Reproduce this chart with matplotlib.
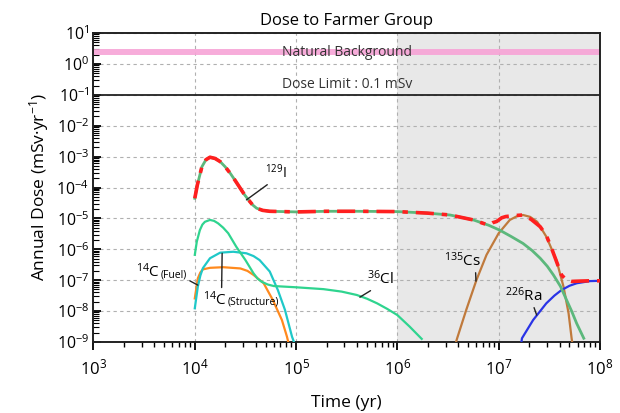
import numpy as np
import matplotlib
matplotlib.use("Agg")
import matplotlib.pyplot as plt
from matplotlib.ticker import LogLocator, LogFormatterMathtext, NullFormatter
import matplotlib.transforms as mtransforms

plt.rcParams['font.family'] = ['Open Sans', 'DejaVu Sans']
plt.rcParams['mathtext.fontset'] = 'custom'
plt.rcParams['mathtext.rm'] = 'Open Sans'
plt.rcParams['mathtext.it'] = 'Open Sans:italic'
plt.rcParams['mathtext.bf'] = 'Open Sans:bold'

# values, as log10(time in yr) and log10(dose in mSv/yr)
i129_t = [4.0, 4.025, 4.07, 4.11, 4.15, 4.20, 4.25, 4.30, 4.35, 4.40, 4.45, 4.49, 4.53, 4.57, 4.61, 4.67, 4.74, 4.87, 5.0,
          5.3, 5.6, 6.0, 6.3, 6.52, 6.75, 6.9, 7.01, 7.12, 7.24, 7.33, 7.41, 7.48, 7.54, 7.61, 7.67, 7.72, 7.77, 7.84]
i129_v = [-4.35, -3.92, -3.33, -3.10, -3.02, -3.06, -3.16, -3.33, -3.54, -3.78, -4.03, -4.23, -4.40, -4.56, -4.67, -4.74, -4.77, -4.78, -4.79,
          -4.77, -4.77, -4.78, -4.83, -4.89, -5.05, -5.22, -5.38, -5.58, -5.81, -6.04, -6.29, -6.55, -6.83, -7.20, -7.64, -8.00, -8.40, -8.88]

total_t = i129_t[:26] + [6.94, 6.98, 7.03, 7.07, 7.15, 7.24, 7.32, 7.41, 7.47, 7.52, 7.56, 7.62, 7.67, 7.72, 7.80, 7.90, 8.0]
total_v = i129_v[:26] + [-5.14, -5.10, -4.98, -4.94, -4.91, -4.89, -5.03, -5.27, -5.55, -5.95, -6.30, -6.83, -7.00, -7.04, -7.03, -7.02, -7.02]

cl36_t = [4.0, 4.02, 4.05, 4.075, 4.10, 4.15, 4.19, 4.23, 4.28, 4.33, 4.41, 4.50, 4.58, 4.62, 4.66, 4.72, 4.78, 5.0, 5.27, 5.45,
          5.6, 5.7, 5.8, 5.9, 6.0, 6.12, 6.24]
cl36_v = [-6.18, -5.75, -5.38, -5.20, -5.11, -5.05, -5.08, -5.16, -5.30, -5.48, -5.92, -6.35, -6.78, -6.95, -7.05, -7.14, -7.19, -7.23, -7.29, -7.37,
          -7.48, -7.60, -7.75, -7.93, -8.13, -8.50, -8.90]

c14s_t = [4.0, 4.03, 4.055, 4.08, 4.15, 4.25, 4.38, 4.51, 4.58, 4.64, 4.74, 4.82, 4.89, 4.96, 4.99]
c14s_v = [-7.91, -7.21, -6.85, -6.61, -6.29, -6.11, -6.08, -6.13, -6.22, -6.35, -6.72, -7.32, -7.96, -8.83, -9.1]

c14f_t = [4.0, 4.03, 4.055, 4.08, 4.15, 4.28, 4.45, 4.52, 4.58, 4.68, 4.77, 4.86, 4.91, 4.93]
c14f_v = [-7.59, -6.94, -6.75, -6.65, -6.60, -6.58, -6.62, -6.70, -6.83, -7.10, -7.64, -8.29, -8.83, -9.1]

cs135_t = [6.57, 6.59, 6.68, 6.78, 6.88, 7.0, 7.11, 7.18, 7.24, 7.31, 7.38, 7.47, 7.57, 7.64, 7.69, 7.72, 7.73]
cs135_v = [-9.1, -8.88, -7.96, -7.0, -6.18, -5.48, -5.05, -4.93, -4.89, -4.95, -5.11, -5.59, -6.35, -7.21, -8.07, -8.88, -9.1]

ra226_t = [7.22, 7.23, 7.34, 7.47, 7.55, 7.62, 7.70, 7.77, 7.90, 8.0]
ra226_v = [-9.1, -8.88, -8.29, -7.75, -7.50, -7.32, -7.18, -7.10, -7.03, -7.02]

background = 2.4
dose_limit = 0.1

series = [
    (c14f_t, c14f_v, '#ff8a1e', 1.6),
    (c14s_t, c14s_v, '#1fc8c8', 1.6),
    (cl36_t, cl36_v, '#2fd48f', 1.6),
    (cs135_t, cs135_v, '#c07a3c', 1.6),
    (ra226_t, ra226_v, '#2a34e6', 1.6),
    (i129_t, i129_v, '#5cb87c', 2.0),
]

fig = plt.figure(figsize=(6.2, 4.13), dpi=100)
ax = fig.add_axes([0.1508, 0.172, 0.8169, 0.748])

ax.axvspan(1e6, 1e8, color='#e8e8e8', zorder=0, lw=0)
ax.axhline(background, color='#f7a3d6', lw=4.3, alpha=0.9, zorder=2)
ax.axhline(dose_limit, color='#222222', lw=1.3, zorder=2)

for t, v, c, lw in series:
    ax.plot(10 ** np.array(t), 10 ** np.array(v), color=c, lw=lw, zorder=3)
ax.plot(10 ** np.array(total_t), 10 ** np.array(total_v), color='#ff1f1f', lw=2.6,
        ls=(0, (5, 2.2, 1.5, 2.2)), zorder=4)

ax.set_xscale('log')
ax.set_yscale('log')
ax.set_xlim(1e3, 1e8)
ax.set_ylim(1e-9, 1e1)

ax.xaxis.set_major_locator(LogLocator(base=10, numticks=20))
ax.xaxis.set_minor_locator(LogLocator(base=10, subs=np.arange(2, 10), numticks=20))
ax.yaxis.set_major_locator(LogLocator(base=10, numticks=20))
ax.yaxis.set_minor_locator(LogLocator(base=10, subs=np.arange(2, 10), numticks=20))
ax.xaxis.set_major_formatter(LogFormatterMathtext())
ax.yaxis.set_major_formatter(LogFormatterMathtext())
ax.xaxis.set_minor_formatter(NullFormatter())
ax.yaxis.set_minor_formatter(NullFormatter())

ax.tick_params(axis='x', which='major', direction='out', length=6, width=1.3, labelsize=12, pad=6)
ax.tick_params(axis='x', which='minor', direction='out', length=3.5, width=1)
ax.tick_params(axis='y', which='major', direction='in', length=6, width=1.3, labelsize=11.5, pad=3)
ax.tick_params(axis='y', which='minor', direction='in', length=4, width=0.8)
for s in ax.spines.values():
    s.set_linewidth(1.4)
    s.set_color('#222222')

ax.grid(True, which='major', ls=(0, (3, 3)), color='#b0b0b0', lw=0.8, zorder=1)
ax.set_axisbelow(True)

ax.set_title('Dose to Farmer Group', fontsize=12, pad=6)
ax.set_xlabel('Time (yr)', fontsize=12.5, labelpad=12)
ax.set_ylabel('Annual Dose (mSv·yr$^{-1}$)', fontsize=12.5, labelpad=4)

trans = mtransforms.blended_transform_factory(ax.transAxes, ax.transData)
ax.text(0.5, background, 'Natural Background', transform=trans, ha='center', va='center',
        fontsize=10, color='#333333', zorder=5)
ax.text(0.5, 10 ** -0.65, 'Dose Limit : 0.1 mSv', transform=trans, ha='center', va='center',
        fontsize=10, color='#333333', zorder=5)

arrow = dict(arrowstyle='-', color='#222222', lw=1.0, shrinkA=0, shrinkB=0)

ax.annotate('$^{129}$I', xy=(10 ** 4.51, 10 ** -4.40), xytext=(10 ** 4.693, 10 ** -3.69),
            va='baseline', ha='left', fontsize=10,
            arrowprops=dict(arrow, relpos=(0.28, 0)), zorder=6)
ax.annotate('$^{36}$Cl', xy=(10 ** 5.63, 10 ** -7.55), xytext=(10 ** 5.70, 10 ** -7.12),
            va='baseline', ha='left', fontsize=11,
            arrowprops=dict(arrow, relpos=(0.3, 0)), zorder=6)
ax.text(10 ** 3.42, 10 ** -6.90, '$^{14}$C', va='baseline', ha='left', fontsize=11, zorder=6)
ax.annotate('(Fuel)', xy=(10 ** 4.03, 10 ** -7.16), xytext=(10 ** 3.665, 10 ** -6.90),
            va='baseline', ha='left', fontsize=7.5,
            arrowprops=dict(arrow, relpos=(1.05, 0.0)), zorder=6)
ax.annotate('$^{14}$C', xy=(10 ** 4.27, 10 ** -6.13), xytext=(10 ** 4.081, 10 ** -7.80),
            va='baseline', ha='left', fontsize=11,
            arrowprops=dict(arrow, relpos=(0.78, 1.0)), zorder=6)
ax.text(10 ** 4.32, 10 ** -7.80, '(Structure)', va='baseline', ha='left', fontsize=7.5, zorder=6)
ax.annotate('$^{135}$Cs', xy=(10 ** 6.776, 10 ** -7.03), xytext=(10 ** 6.46, 10 ** -6.54),
            va='baseline', ha='left', fontsize=11,
            arrowprops=dict(arrow, relpos=(0.85, 0)), zorder=6)
ax.annotate('$^{226}$Ra', xy=(10 ** 7.375, 10 ** -8.13), xytext=(10 ** 7.062, 10 ** -7.67),
            va='baseline', ha='left', fontsize=11,
            arrowprops=dict(arrow, relpos=(0.75, 0)), zorder=6)

fig.savefig('out.png', dpi=100)
